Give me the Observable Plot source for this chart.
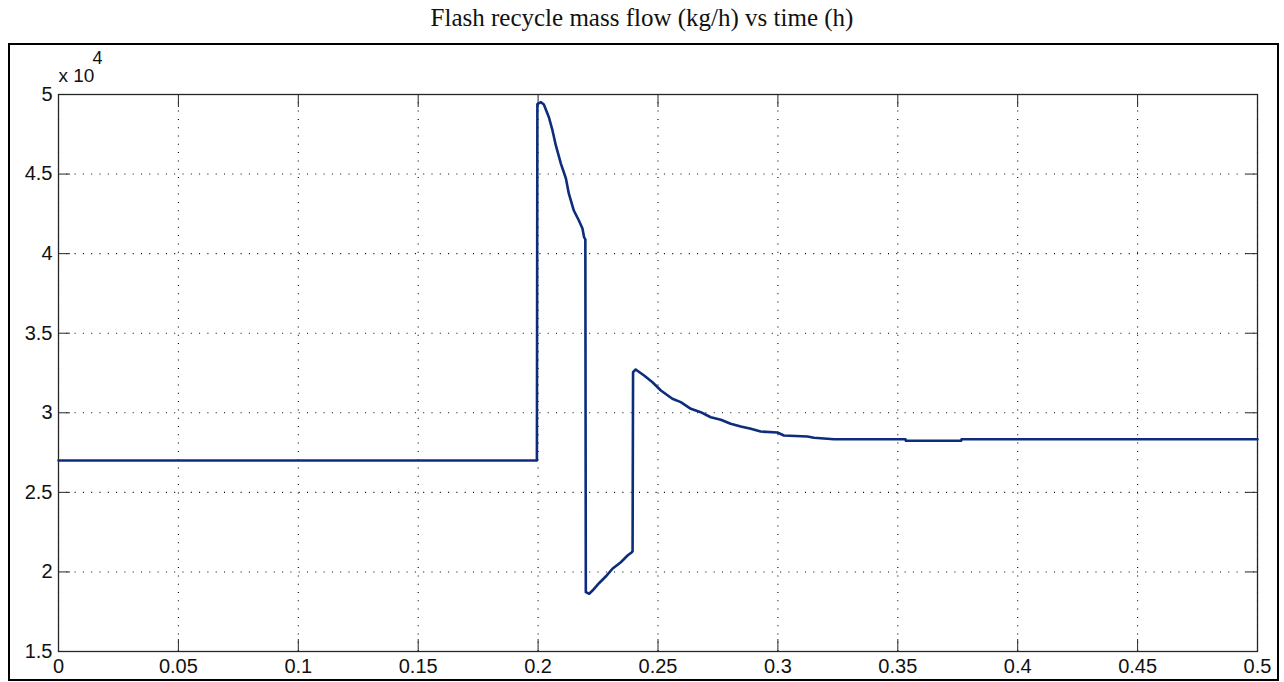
<!DOCTYPE html>
<html>
<head>
<meta charset="utf-8">
<script src="https://cdn.jsdelivr.net/npm/d3@7"></script>
<script src="https://cdn.jsdelivr.net/npm/@observablehq/plot@0.6"></script>
<style>
  html, body { margin: 0; padding: 0; background: #fff; }
  #page { position: relative; width: 1284px; height: 682px; overflow: hidden; }
  #title { height: 44px; line-height: 36px; text-align: center; font-family: "Liberation Serif", "Times New Roman", serif; font-size: 25px; color: #111; padding-left: 0px; }
  #border { position: absolute; left: 8px; top: 43px; width: 1271px; height: 638px; box-sizing: border-box; border: 2px solid #000; pointer-events: none; }
  #chart svg { display: block; }
</style>
</head>
<body>
<div id="page">
  <div id="title">Flash recycle mass flow (kg/h) vs time (h)</div>
  <div id="chart"></div>
  <div id="border"></div>
</div>
<script>
// time (h)
const time_h = [0, 0.1995, 0.1997, 0.2012, 0.2024, 0.2045, 0.2060, 0.2074, 0.2095, 0.2116, 0.2128, 0.2149, 0.2170, 0.2185, 0.2192, 0.2197, 0.2199, 0.2213, 0.2227, 0.2254, 0.2282, 0.2310, 0.2345, 0.2373, 0.2391, 0.2394, 0.2396, 0.2407, 0.2442, 0.2477, 0.2512, 0.2560, 0.2595, 0.2637, 0.2678, 0.2720, 0.2762, 0.2803, 0.2845, 0.2887, 0.2928, 0.2998, 0.3025, 0.3123, 0.3150, 0.3234, 0.3532, 0.3534, 0.3764, 0.3766, 0.5];
// flash recycle mass flow (x 10^4 kg/h)
const flow_1e4 = [2.70, 2.70, 4.94, 4.952, 4.937, 4.857, 4.774, 4.680, 4.566, 4.472, 4.378, 4.271, 4.208, 4.158, 4.102, 4.09, 1.873, 1.863, 1.883, 1.929, 1.971, 2.020, 2.061, 2.103, 2.124, 2.13, 3.255, 3.272, 3.234, 3.192, 3.140, 3.088, 3.067, 3.025, 3.004, 2.972, 2.956, 2.931, 2.914, 2.899, 2.882, 2.876, 2.857, 2.851, 2.843, 2.834, 2.834, 2.824, 2.824, 2.834, 2.834];

const xTicks = [0, 0.05, 0.1, 0.15, 0.2, 0.25, 0.3, 0.35, 0.4, 0.45, 0.5];
const yTicks = [1.5, 2, 2.5, 3, 3.5, 4, 4.5, 5];
const xTickLabels = ["0", "0.05", "0.1", "0.15", "0.2", "0.25", "0.3", "0.35", "0.4", "0.45", "0.5"];
const yTickLabels = ["1.5", "2", "2.5", "3", "3.5", "4", "4.5", "5"];
const multiplierBase = "x 10";
const multiplierExp = "4";

const data = time_h.map((t, i) => ({t, v: flow_1e4[i]}));
const fmtX = d => xTickLabels[xTicks.findIndex(v => Math.abs(v - d) < 1e-9)];
const fmtY = d => yTickLabels[yTicks.findIndex(v => Math.abs(v - d) < 1e-9)];

const axisColor = "#262626";
const gridDash = "1,7.3";

const chart = Plot.plot({
  width: 1284,
  height: 638,
  marginLeft: 58,
  marginRight: 27,
  marginTop: 50,
  marginBottom: 31,
  style: {fontFamily: "'Liberation Sans Narrow', 'Liberation Sans', Arial, sans-serif", fontSize: "20px", color: "#111", background: "transparent"},
  x: {domain: [0, 0.5], label: null},
  y: {domain: [1.5, 5], label: null},
  marks: [
    Plot.gridX(xTicks, {stroke: "#000", strokeOpacity: 1, strokeDasharray: gridDash, strokeWidth: 1.1}),
    Plot.gridY(yTicks, {stroke: "#000", strokeOpacity: 1, strokeDasharray: gridDash, strokeWidth: 1.1}),
    Plot.axisX(xTicks, {anchor: "bottom", tickSize: -12, tickPadding: 19, tickFormat: fmtX, stroke: axisColor, fill: "#111", label: null}),
    Plot.axisX(xTicks, {anchor: "top", tickSize: -12, tickFormat: () => "", stroke: axisColor, label: null}),
    Plot.axisY(yTicks, {anchor: "left", tickSize: -12, tickPadding: 18, tickFormat: fmtY, stroke: axisColor, fill: "#111", label: null}),
    Plot.axisY(yTicks, {anchor: "right", tickSize: -12, tickFormat: () => "", stroke: axisColor, label: null}),
    Plot.frame({stroke: axisColor, strokeWidth: 1.3}),
    Plot.line(data, {x: "t", y: "v", stroke: "#0c2c7c", strokeWidth: 2.6, strokeLinejoin: "round"}),
    Plot.text([multiplierBase], {text: d => d, frameAnchor: "top-left", textAnchor: "start", lineAnchor: "middle", dx: 0, dy: -19, fontSize: 19, fill: "#111"}),
    Plot.text([multiplierExp], {text: d => d, frameAnchor: "top-left", textAnchor: "start", lineAnchor: "middle", dx: 34, dy: -36, fontSize: 18, fill: "#111"})
  ]
});
document.getElementById("chart").appendChild(chart);
</script>
</body>
</html>
